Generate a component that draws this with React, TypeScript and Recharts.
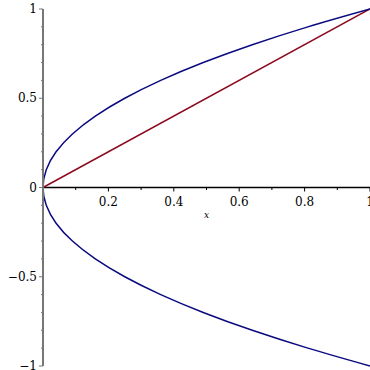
import React from "react";
import {
  LineChart,
  Line,
  XAxis,
  YAxis,
  ReferenceLine,
  ReferenceDot,
} from "recharts";

// Parabola x = y^2 (ordered bottom to top)
const parabolaY = [
  -1, -0.9, -0.8, -0.7, -0.6, -0.5, -0.4, -0.3, -0.2, -0.1, 0,
  0.1, 0.2, 0.3, 0.4, 0.5, 0.6, 0.7, 0.8, 0.9, 1,
];
const parabolaX = [
  1, 0.81, 0.64, 0.49, 0.36, 0.25, 0.16, 0.09, 0.04, 0.01, 0,
  0.01, 0.04, 0.09, 0.16, 0.25, 0.36, 0.49, 0.64, 0.81, 1,
];

// Straight line y = x
const diagX = [0, 1];
const diagY = [0, 1];

// Axis ticks
const xTicks = [0.1, 0.2, 0.3, 0.4, 0.5, 0.6, 0.7, 0.8, 0.9, 1];
const xTickLabels = ["", "0.2", "", "0.4", "", "0.6", "", "0.8", "", "1"];
const yTicks = [
  -1, -0.9, -0.8, -0.7, -0.6, -0.5, -0.4, -0.3, -0.2, -0.1, 0,
  0.1, 0.2, 0.3, 0.4, 0.5, 0.6, 0.7, 0.8, 0.9, 1,
];
const yTickLabels: Record<string, string> = {
  "-1": "\u22121",
  "-0.5": "\u22120.5",
  "0": "0",
  "0.5": "0.5",
  "1": "1",
};

const parabolaData = parabolaX.map((x, i) => ({ x, y: parabolaY[i] }));
const diagData = diagX.map((x, i) => ({ x, y: diagY[i] }));

const FONT = "'DejaVu Serif', serif";

const YTick = (props: any) => {
  const { x, y, payload } = props;
  const label = yTickLabels[String(payload.value)];
  const major = label !== undefined;
  return (
    <g>
      <line x1={x - (major ? 4 : 2)} y1={y} x2={x} y2={y} stroke="#777" strokeWidth={1} />
      {major && (
        <text x={x - 6} y={y} textAnchor="end" dominantBaseline="central" fontFamily={FONT} fontSize={12} fill="#000">
          {label}
        </text>
      )}
    </g>
  );
};

export default function App() {
  return (
    <div style={{ position: "absolute", left: 0, top: 0, width: 370, height: 370, background: "#fff" }}>
      <LineChart width={370} height={370} margin={{ top: 9, right: 0, left: 0, bottom: 4 }}>
        <XAxis type="number" dataKey="x" domain={[0, 1]} hide />
        <YAxis
          type="number"
          dataKey="y"
          domain={[-1, 1]}
          ticks={yTicks}
          interval={0}
          width={43}
          tickSize={0}
          tickMargin={0}
          tickLine={false}
          axisLine={{ stroke: "#777", strokeWidth: 2 }}
          tick={<YTick />}
        />
        <ReferenceLine y={0} stroke="#000" strokeWidth={1.5} />
        {xTicks.map((v, i) => (
          <ReferenceDot
            key={v}
            x={v}
            y={0}
            r={0}
            shape={(p: any) => (
              <g>
                <line
                  x1={p.cx}
                  y1={p.cy}
                  x2={p.cx}
                  y2={p.cy + (xTickLabels[i] ? 4 : 2.5)}
                  stroke="#000"
                  strokeWidth={1}
                />
                {xTickLabels[i] && (
                  <text x={p.cx} y={p.cy + 18} textAnchor="middle" fontFamily={FONT} fontSize={12} fill="#000">
                    {xTickLabels[i]}
                  </text>
                )}
              </g>
            )}
          />
        ))}
        <ReferenceDot
          x={0.5}
          y={0}
          r={0}
          shape={(p: any) => (
            <text x={p.cx} y={p.cy + 30} textAnchor="middle" fontFamily={FONT} fontStyle="italic" fontSize={9} fill="#000">
              x
            </text>
          )}
        />
        <Line
          data={diagData}
          dataKey="y"
          type="linear"
          stroke="#8c0a1e"
          strokeWidth={1.5}
          dot={false}
          isAnimationActive={false}
        />
        <Line
          data={parabolaData}
          dataKey="y"
          type="monotoneY"
          stroke="#0a0a80"
          strokeWidth={1.5}
          dot={false}
          isAnimationActive={false}
        />
      </LineChart>
    </div>
  );
}
